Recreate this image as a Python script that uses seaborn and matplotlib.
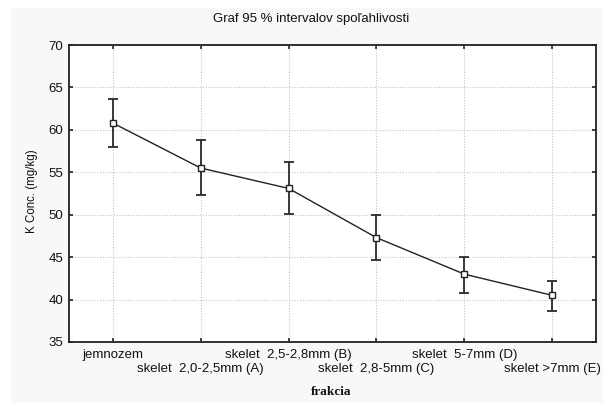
import matplotlib
matplotlib.use("Agg")
import matplotlib.pyplot as plt
import matplotlib.patches as mpatches
import seaborn as sns
import pandas as pd

# Fraction categories and mean K concentration with 95 % confidence limits
categories = [
    "jemnozem",
    "skelet  2,0-2,5mm (A)",
    "skelet  2,5-2,8mm (B)",
    "skelet  2,8-5mm (C)",
    "skelet  5-7mm (D)",
    "skelet >7mm (E)",
]
means = [60.8, 55.5, 53.1, 47.3, 43.0, 40.5]
upper = [63.6, 58.8, 56.2, 50.0, 45.0, 42.2]
lower = [58.0, 52.3, 50.1, 44.7, 40.8, 38.7]
y_ticks = [35, 40, 45, 50, 55, 60, 65, 70]

df = pd.DataFrame({"pos": range(len(categories)), "K": means,
                   "lo": lower, "hi": upper})

sns.set_theme(style="white")
plt.rcParams["font.family"] = ["Liberation Sans", "DejaVu Sans"]

W, H = 603, 403
fig = plt.figure(figsize=(W / 100, H / 100), dpi=100, facecolor="white")
# light grey panel behind the graph
fig.patches.append(mpatches.Rectangle((11 / W, 0), 1, (H - 8) / H,
                                      transform=fig.transFigure,
                                      facecolor="#f8f8f8", edgecolor="none",
                                      zorder=-10))
ax = fig.add_axes([69 / W, 61 / H, 527 / W, 297 / H])
ax.set_facecolor("white")

ax.errorbar(df["pos"], df["K"],
            yerr=[df["K"] - df["lo"], df["hi"] - df["K"]],
            fmt="none", ecolor="#2a2a2a", elinewidth=1.3, capsize=3.6,
            capthick=1.3, zorder=3)
sns.lineplot(data=df, x="pos", y="K", ax=ax, color="#222222", linewidth=1.0,
             marker="s", markersize=4, markerfacecolor="white",
             markeredgecolor="#222222", markeredgewidth=1.0, zorder=4)

ax.set_xlim(-0.5, len(categories) - 0.5)
ax.set_ylim(35, 70)
ax.set_yticks(y_ticks)
ax.set_xticks(df["pos"])
ax.set_xticklabels(categories, fontsize=9.5)
ax.tick_params(axis="y", labelsize=9.5)
ax.tick_params(which="both", direction="in", length=3, width=1.2,
               top=True, right=True, bottom=True, left=True,
               colors="#222222", labelcolor="#111111", pad=4)
# staggered category labels: every second one on a lower row
for i, tick in enumerate(ax.xaxis.get_major_ticks()):
    tick.set_pad(5 if i % 2 == 0 else 15)

ax.grid(True, linestyle=(0, (1, 1.5)), color="#c4c4c4", linewidth=0.8)
ax.set_axisbelow(True)
for s in ax.spines.values():
    s.set_visible(True)
    s.set_color("#222222")
    s.set_linewidth(1.3)

fig.text(311 / W, 1 - 19 / H, "Graf 95 % intervalov spoľahlivosti",
         fontsize=9.5, color="#111111", ha="center", va="center")
ax.set_xlabel("")
fig.text(32 / W, 1 - 191 / H, "K Conc. (mg/kg)", fontsize=8.3,
         color="#111111", rotation=90, ha="center", va="center")
fig.text(331 / W, 1 - 392 / H, "frakcia", fontsize=9.5, fontweight="bold",
         family=["Liberation Serif", "DejaVu Serif"], color="#111111",
         ha="center", va="center")
ax.set_ylabel("")

fig.savefig("out.png", dpi=100, facecolor=fig.get_facecolor())
